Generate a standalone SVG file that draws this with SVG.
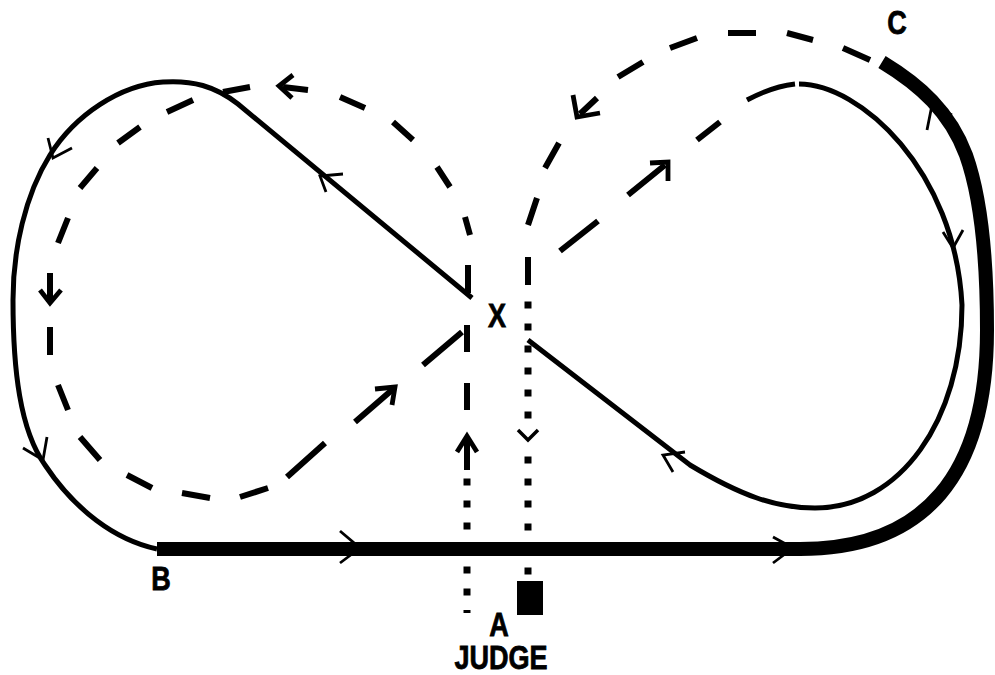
<svg xmlns="http://www.w3.org/2000/svg" width="995" height="675" viewBox="0 0 995 675">
<style>
.solid{fill:none;stroke:#000;stroke-width:5}
.thick{fill:none;stroke:#000;stroke-width:14}
.dash{fill:none;stroke:#000;stroke-width:6}
.head{fill:none;stroke:#000;stroke-width:2.8}
.dhead{fill:none;stroke:#000;stroke-width:4.8}
.dot{fill:#000}
.lbl{font-family:"Liberation Sans",Arial,sans-serif;font-weight:bold;font-size:33px;text-anchor:middle;fill:#000;stroke:#000;stroke-width:0.8}
</style>
<rect width="995" height="675" fill="#fff"/>
<g id="connectors">
  <path class="solid" d="M472,298 L238,104 C215,86 192,80 163,82 C120,85 75,115 50,155 C25,195 13,250 13,300 C13,370 20,430 45,465 C75,510 115,540 157,549"/>
  <path class="thick" d="M157,549 H800 C925,549 987,475 987,330 C987,260 982,200 966,155 C950,112 920,85 882,62"/>
  <path class="solid" d="M747,100 C762,92 778,86 795,84"/>
  <path class="solid" d="M799,84 C860,84 955,170 962,305 C962,420 900,508 815,508 C775,508 740,495 690,465 L528,340"/>
  <path class="dash" d="M465,217 L470,235 M468,265 L468,293 M437,167 L450,187 M393,122 L413,140 M340,97 L365,108 M223,92 L250,87 M167,112 L193,100 M118,143 L140,127 M80,188 L97,168 M58,243 L68,218 M50,327 L50,355 M58,385 L68,410 M80,437 L100,460 M127,475 L152,488 M182,493 L210,498 M240,497 L268,488 M287,477 L325,443 M423,365 L462,332 M467,325 L467,352 M467,383 L467,410"/>
  <path class="dash" d="M283,87 L308,90 M50,273 L50,300 M355,422 L392,390 M467,440 L467,470"/>
  <path class="dhead" d="M293,75 L279,86 L292,98 M40,290 L50,303 L61,290 M375,389 L395,387 L392,405 M457,452 L467,436 L477,452"/>
  <path class="dash" d="M528,257 L528,285 M528,225 L537,198 M545,168 L559,143 M618,77 L643,62 M670,48 L697,38 M728,33 L756,33 M787,33 L813,40 M843,48 L870,60 M580,114 L597,98 M560,251 L598,221 M628,195 L665,165 M697,140 L720,122"/>
  <path class="dhead" d="M573,95 L577,117 L600,113 M650,163 L668,162 L668,181"/>
  <g class="dot">
    <rect x="524.5" y="301.5" width="7" height="7"/>
    <rect x="524.5" y="323.5" width="7" height="7"/>
    <rect x="524.5" y="345.5" width="7" height="7"/>
    <rect x="524.5" y="367.5" width="7" height="7"/>
    <rect x="524.5" y="389.5" width="7" height="7"/>
    <rect x="524.5" y="411.5" width="7" height="7"/>
    <rect x="524.5" y="456.5" width="7" height="7"/>
    <rect x="524.5" y="478.5" width="7" height="7"/>
    <rect x="524.5" y="500.5" width="7" height="7"/>
    <rect x="524.5" y="523.5" width="7" height="7"/>
    <rect x="524.5" y="567.5" width="7" height="7"/>
    <rect x="463.5" y="478.5" width="7" height="7"/>
    <rect x="463.5" y="500.5" width="7" height="7"/>
    <rect x="463.5" y="522.5" width="7" height="7"/>
    <rect x="463.5" y="566.5" width="7" height="7"/>
    <rect x="463.5" y="588.5" width="7" height="7"/>
    <rect x="463.5" y="610" width="7" height="3"/>
  </g>
  <path class="head" d="M48,138 L53,158 L72,148 M47,437 L43,460 L23,448 M343,174 L320,176 L326,192 M340,531 L360,548 L340,563 M773,537 L793,548 L773,563 M927,130 L932,105 L952,115 M943,232 L953,248 L963,230 M685,452 L663,455 L673,472"/>
  <path class="head" style="stroke-width:3.5" d="M518,430 L528,440 L538,430"/>
</g>
<g id="node-x"><text class="lbl" transform="translate(497,327) scale(0.82,1)">X</text></g>
<g id="node-c"><text class="lbl" transform="translate(897,34) scale(0.82,1)">C</text></g>
<g id="node-b"><text class="lbl" transform="translate(161,590) scale(0.82,1)">B</text></g>
<g id="node-a">
  <rect x="517" y="581" width="26" height="34" fill="#000"/>
  <text class="lbl" transform="translate(499,636) scale(0.82,1)">A</text>
  <text class="lbl" transform="translate(501,669) scale(0.82,1)">JUDGE</text>
</g>
</svg>
